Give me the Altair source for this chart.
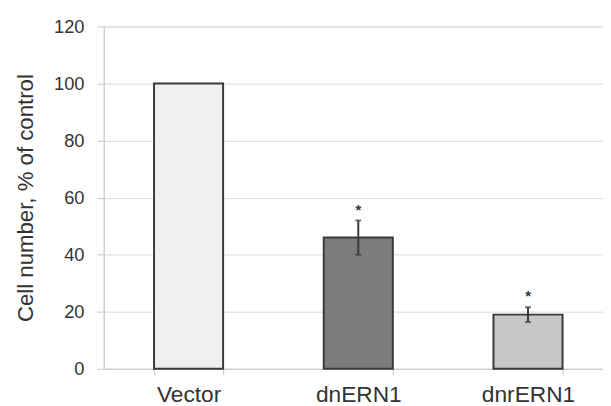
import altair as alt
import pandas as pd

categories = ["Vector", "dnERN1", "dnrERN1"]
values = [100, 46, 19]
errors = [0, 6, 2.6]
marks = ["", "*", "*"]
fills = ["#efefef", "#7c7c7c", "#c6c6c6"]

df = pd.DataFrame({
    "cat": categories,
    "val": values,
    "err": errors,
    "mark": marks,
    "fill": fills,
})
df["lo"] = df["val"] - df["err"]
df["hi"] = df["val"] + df["err"]
err_df = df[df["err"] > 0]

font = "Liberation Sans"

xscale = alt.Scale(domain=categories, range=[0, 516], paddingInner=0.593, paddingOuter=0.2965)
x = alt.X("cat:N", scale=xscale, sort=categories,
          axis=alt.Axis(title=None, labelAngle=0, tickBand="extent", tickSize=6,
                        labelPadding=9, labelFontSize=23, labelColor="#333333",
                        labelFont=font, domainColor="#c8c8c8", tickColor="#c8c8c8",
                        grid=False))
yscale = alt.Scale(domain=[0, 120], nice=False)
y = alt.Y("val:Q", scale=yscale,
          axis=alt.Axis(title="Cell number, % of control", values=[0, 20, 40, 60, 80, 100, 120],
                        tickSize=7, labelPadding=13, labelFontSize=18.5, labelColor="#333333",
                        labelFont=font, titleFont=font, titleFontSize=22.5, titleFontWeight="normal",
                        titleColor="#333333", titlePadding=16, domainColor="#c8c8c8",
                        tickColor="#c8c8c8", gridColor="#d9d9d9", grid=True))

bars = alt.Chart(df).mark_bar(stroke="#3a3a3a", strokeWidth=2).encode(
    x=x, y=y, fill=alt.Fill("fill:N", scale=None)
)

rules = alt.Chart(err_df).mark_rule(color="#3a3a3a", strokeWidth=2).encode(
    x=alt.X("cat:N", scale=xscale, sort=categories),
    y=alt.Y("lo:Q", scale=yscale),
    y2="hi:Q",
)
caps_hi = alt.Chart(err_df).mark_tick(color="#3a3a3a", thickness=2, size=6, orient="horizontal").encode(
    x=alt.X("cat:N", scale=xscale, sort=categories),
    y=alt.Y("hi:Q", scale=yscale),
)
caps_lo = alt.Chart(err_df).mark_tick(color="#3a3a3a", thickness=2, size=6, orient="horizontal").encode(
    x=alt.X("cat:N", scale=xscale, sort=categories),
    y=alt.Y("lo:Q", scale=yscale),
)
stars = alt.Chart(err_df).mark_text(dy=-11, fontSize=15, fontWeight="bold", font=font, color="#333333").encode(
    x=alt.X("cat:N", scale=xscale, sort=categories),
    y=alt.Y("hi:Q", scale=yscale),
    text="mark:N",
)

chart = alt.layer(bars, rules, caps_hi, caps_lo, stars).properties(
    width=506,
    height=347,
    autosize=alt.AutoSizeParams(type="none"),
    padding={"left": 97, "top": 16, "right": 0, "bottom": 36},
).configure_view(stroke=None).configure(background="white")

chart.save("out.html", embed_options={"renderer": "svg", "actions": False})
